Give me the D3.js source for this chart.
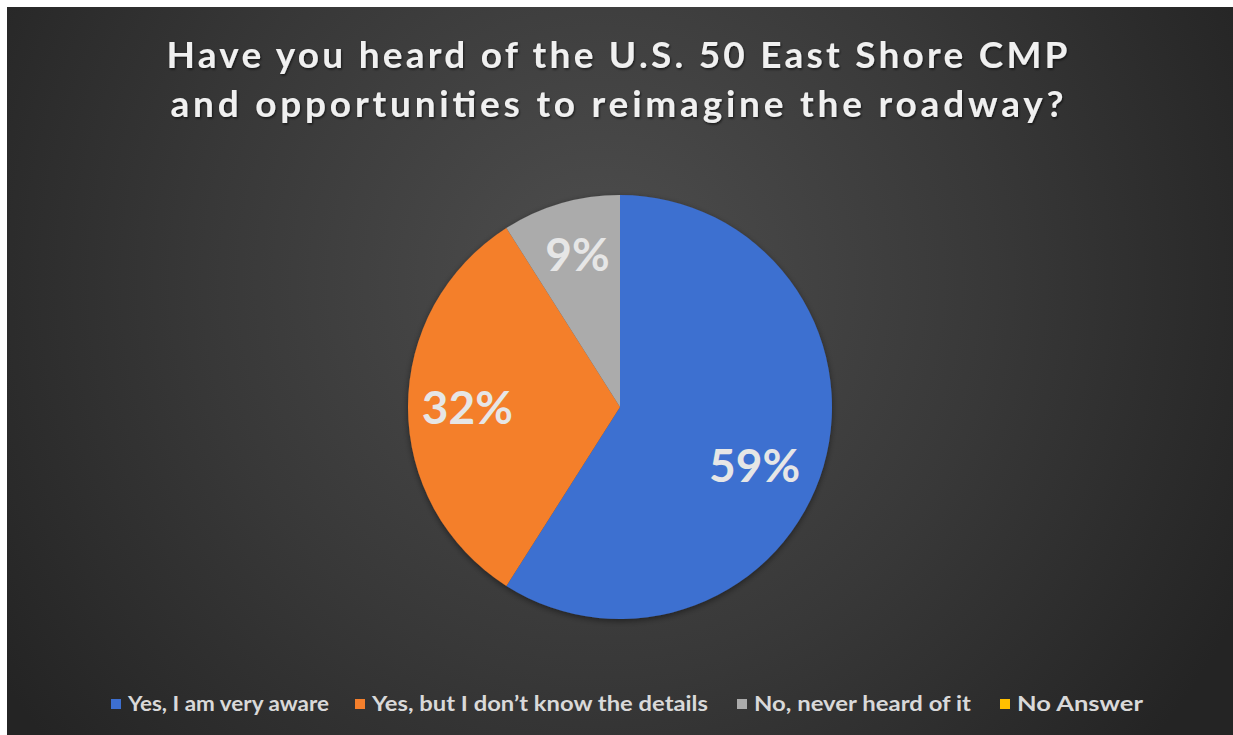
<!DOCTYPE html>
<html>
<head>
<meta charset="utf-8">
<script src="https://cdn.jsdelivr.net/npm/d3@7"></script>
<style>
  html, body { margin: 0; padding: 0; background: #ffffff; }
  svg { display: block; }
</style>
</head>
<body>
<svg id="chart" width="1233" height="735"></svg>
<script>
// Survey responses
const categories = ["Yes, I am very aware", "Yes, but I don’t know the details", "No, never heard of it", "No Answer"];
const values = [59, 32, 9, 0];
const colors = ["#3d6fd0", "#f47f2c", "#ababab", "#ffc000"];
const titleLines = ["Have you heard of the U.S. 50 East Shore CMP", "and opportunities to reimagine the roadway?"];

const W = 1233, H = 735;
const svg = d3.select("#chart");
const defs = svg.append("defs");

// Dark panel with a soft radial light
const bg = defs.append("radialGradient").attr("id", "bgGrad")
  .attr("gradientUnits", "userSpaceOnUse")
  .attr("cx", 600).attr("cy", 280).attr("r", 720);
bg.append("stop").attr("offset", "0%").attr("stop-color", "#4e4e4e");
bg.append("stop").attr("offset", "55%").attr("stop-color", "#383838");
bg.append("stop").attr("offset", "100%").attr("stop-color", "#242424");

const shadow = defs.append("filter").attr("id", "pieShadow")
  .attr("x", "-20%").attr("y", "-20%").attr("width", "140%").attr("height", "140%");
shadow.append("feDropShadow").attr("dx", 0).attr("dy", 2).attr("stdDeviation", 3)
  .attr("flood-color", "#000").attr("flood-opacity", 0.45);

const textShadow = defs.append("filter").attr("id", "txtShadow")
  .attr("x", "-10%").attr("y", "-30%").attr("width", "120%").attr("height", "160%");
textShadow.append("feDropShadow").attr("dx", 1).attr("dy", 1.5).attr("stdDeviation", 1.2)
  .attr("flood-color", "#000").attr("flood-opacity", 0.6);

svg.append("rect").attr("x", 7).attr("y", 7).attr("width", W - 7).attr("height", H - 7)
  .attr("fill", "url(#bgGrad)");

// Title
const titleWidths = [901, 893];
const titleBase = [68, 117];
svg.append("g").attr("filter", "url(#txtShadow)")
  .selectAll("text").data(titleLines).join("text")
  .attr("x", 617).attr("y", (d, i) => titleBase[i])
  .attr("text-anchor", "middle")
  .attr("textLength", (d, i) => titleWidths[i])
  .attr("lengthAdjust", "spacing")
  .attr("font-family", "Lato, 'Open Sans', sans-serif")
  .attr("font-weight", "bold")
  .attr("font-size", 37)
  .attr("fill", "#f0f0f0")
  .text(d => d);

// Pie
const cx = 620, cy = 407, R = 212;
const data = categories.map((c, i) => ({ name: c, value: values[i], color: colors[i] }));
const pie = d3.pie().value(d => d.value).sort(null);
const arcs = pie(data);
const arc = d3.arc().innerRadius(0).outerRadius(R);
const labelArc = d3.arc().innerRadius(R * 0.72).outerRadius(R * 0.72);
// small per-slice label nudges (best-fit placement)
const labelNudge = [[-12, 16], [0, 0], [0, -6], [0, 0]];

const g = svg.append("g").attr("transform", `translate(${cx},${cy})`);
g.append("g").attr("filter", "url(#pieShadow)")
  .selectAll("path").data(arcs.filter(a => a.data.value > 0)).join("path")
  .attr("d", arc)
  .attr("fill", d => d.data.color);

g.selectAll("text.lbl").data(arcs.filter(a => a.data.value > 0)).join("text")
  .attr("class", "lbl")
  .attr("transform", d => {
    const [x, y] = labelArc.centroid(d);
    const [nx, ny] = labelNudge[d.index];
    return `translate(${x + nx},${y + ny})`;
  })
  .attr("text-anchor", "middle")
  .attr("dy", "0.36em")
  .attr("font-family", "Lato, 'Open Sans', sans-serif")
  .attr("font-weight", "bold")
  .attr("font-size", 46)
  .attr("fill", "#e6e6e6")
  .text(d => d3.format(".0f")(d.data.value) + "%");

// Legend
const legendX = [111, 355, 737, 1000];
const legendWidths = [201, 336, 217, 126];
const leg = svg.append("g").selectAll("g").data(data).join("g")
  .attr("transform", (d, i) => `translate(${legendX[i]},704)`);
leg.append("rect").attr("x", 0).attr("y", -5).attr("width", 10).attr("height", 10)
  .attr("fill", d => d.color);
leg.append("text")
  .attr("x", 17).attr("y", 0).attr("dy", "0.36em")
  .attr("textLength", (d, i) => legendWidths[i])
  .attr("lengthAdjust", "spacingAndGlyphs")
  .attr("font-family", "Lato, 'Open Sans', sans-serif")
  .attr("font-weight", "bold")
  .attr("font-size", 20)
  .attr("fill", "#d9d9d9")
  .text(d => d.name);
</script>
</body>
</html>
